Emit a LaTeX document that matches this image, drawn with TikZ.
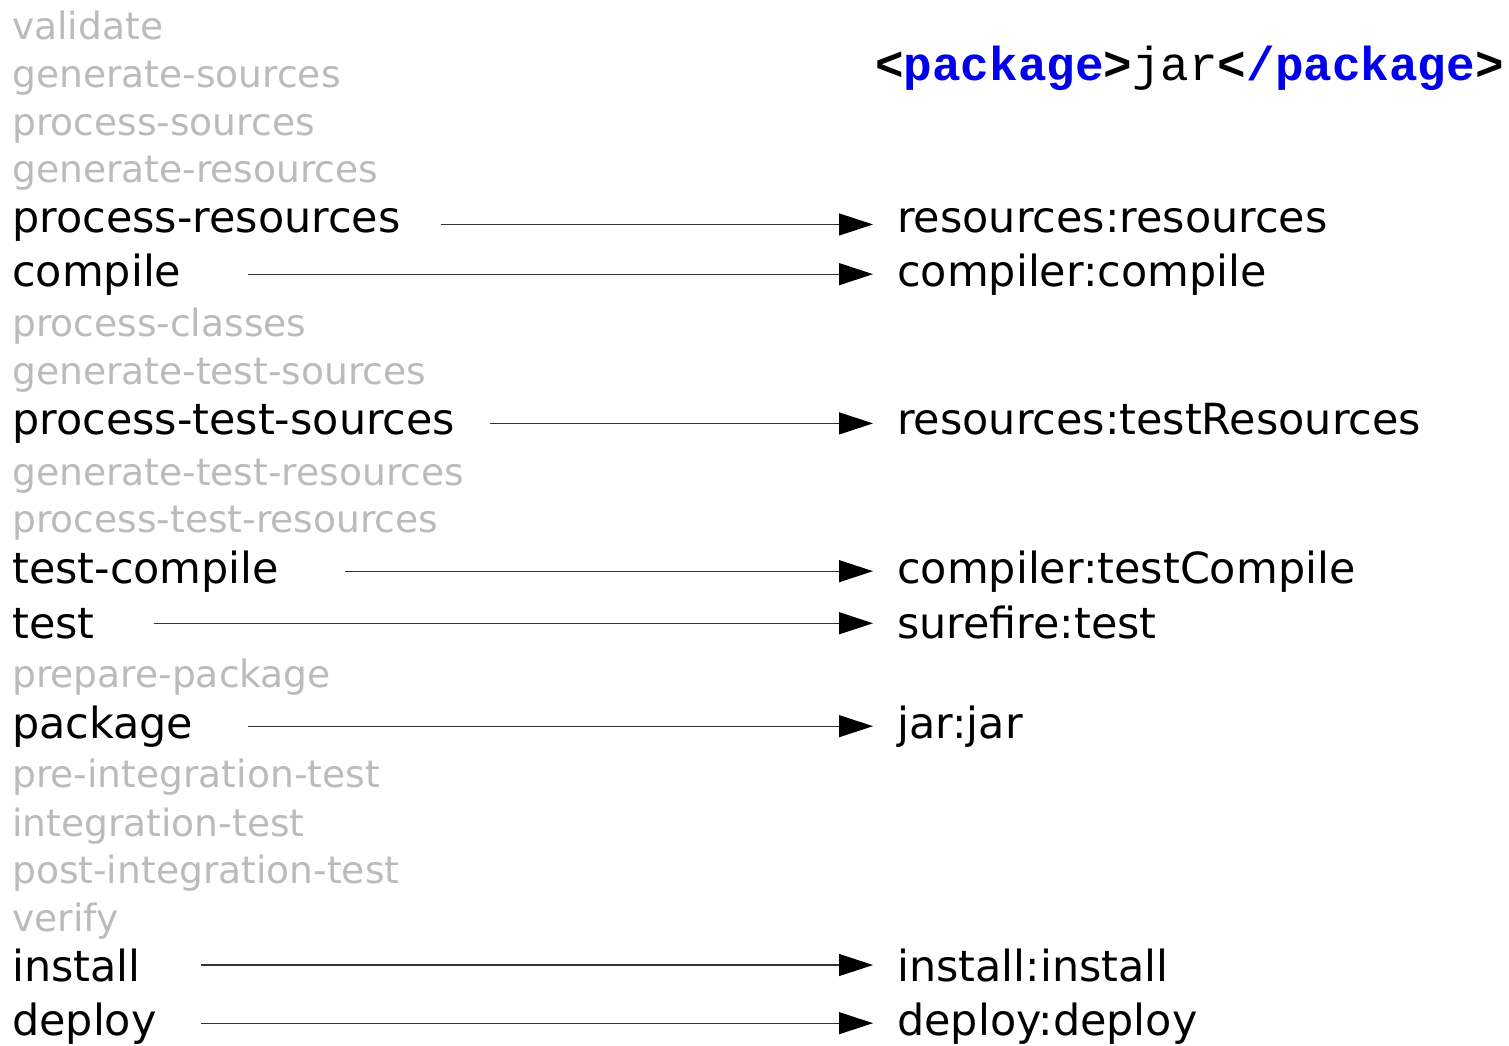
\documentclass[tikz,border=0pt]{standalone}
\usepackage{fontspec}
\setmainfont{DejaVu Sans}
\setmonofont{Liberation Mono}
\usetikzlibrary{arrows.meta}
\definecolor{PhaseGrey}{RGB}{187,187,187}
\definecolor{TagBlue}{RGB}{0,0,235}

\begin{document}
\begin{tikzpicture}[
    x=1pt, y=-1pt,
    phase/.style={anchor=base west, inner sep=0pt, text=PhaseGrey,
                  font=\fontsize{37.6}{40}\selectfont},
    bound/.style={anchor=base west, inner sep=0pt,
                  font=\fontsize{42.9}{46}\selectfont},
    goal/.style={bound},
    arr/.style={-{Triangle[length=34pt,width=22pt,color=black]}, line width=1.2pt,
                black!80, shorten >=24pt}
  ]
  \useasboundingbox (0,0) rectangle (1509,1045);

  % lifecycle phases, top to bottom
  \node[phase] (validate)    at (12,39)   {validate};
  \node[phase] (gensrc)      at (12,87)   {generate-sources};
  \node[phase] (procsrc)     at (12,135)  {process-sources};
  \node[phase] (genres)      at (12,182)  {generate-resources};
  \node[bound] (procres)     at (12,232)  {process-resources};
  \node[bound] (compile)     at (12,286)  {compile};
  \node[phase] (procclasses) at (12,336)  {process-classes};
  \node[phase] (gentestsrc)  at (12,384)  {generate-test-sources};
  \node[bound] (proctestsrc) at (12,434)  {process-test-sources};
  \node[phase] (gentestres)  at (12,485)  {generate-test-resources};
  \node[phase] (proctestres) at (12,532)  {process-test-resources};
  \node[bound] (testcompile) at (12,583)  {test-compile};
  \node[bound] (test)        at (12,638)  {test};
  \node[phase] (prepkg)      at (12,687)  {prepare-package};
  \node[bound] (package)     at (12,738)  {package};
  \node[phase] (preit)       at (12,787)  {pre-integration-test};
  \node[phase] (it)          at (12,836)  {integration-test};
  \node[phase] (postit)      at (12,883)  {post-integration-test};
  \node[phase] (verify)      at (12,931)  {verify};
  \node[bound] (install)     at (12,981)  {install};
  \node[bound] (deploy)      at (12,1035) {deploy};

  % plugin goals bound for jar packaging
  \node[font=\fontsize{47.6}{50}\selectfont\ttfamily, anchor=base west, inner sep=0pt]
       (pkgtag) at (875,80)
       {\textbf{<\textcolor{TagBlue}{package}>}jar\textbf{<\textcolor{TagBlue}{/package}>}};
  \node[goal] (resources)     at (897,232)  {resources:resources};
  \node[goal] (compiler)      at (897,286)  {compiler:compile};
  \node[goal] (testresources) at (897,434)  {resources:testResources};
  \node[goal] (testcompiler)  at (897,583)  {compiler:testCompile};
  \node[goal] (surefire)      at (897,638)  {surefire:test};
  \node[goal] (jar)           at (897,738)  {jar:jar};
  \node[goal] (installgoal)   at (897,981)  {install:install};
  \node[goal] (deploygoal)    at (897,1035) {deploy:deploy};

  \draw[arr, shorten <=40pt] (procres.east)     -- (procres.east -| resources.west);
  \draw[arr, shorten <=67pt] (compile.east)     -- (compile.east -| compiler.west);
  \draw[arr, shorten <=35pt] (proctestsrc.east) -- (proctestsrc.east -| testresources.west);
  \draw[arr, shorten <=66pt] (testcompile.east) -- (testcompile.east -| testcompiler.west);
  \draw[arr, shorten <=59pt] (test.east)        -- (test.east -| surefire.west);
  \draw[arr, shorten <=54pt] (package.east)     -- (package.east -| jar.west);
  \draw[arr, shorten <=60pt] (install.east)     -- (install.east -| installgoal.west);
  \draw[arr, shorten <=44pt] (deploy.east)      -- (deploy.east -| deploygoal.west);
\end{tikzpicture}
\end{document}
